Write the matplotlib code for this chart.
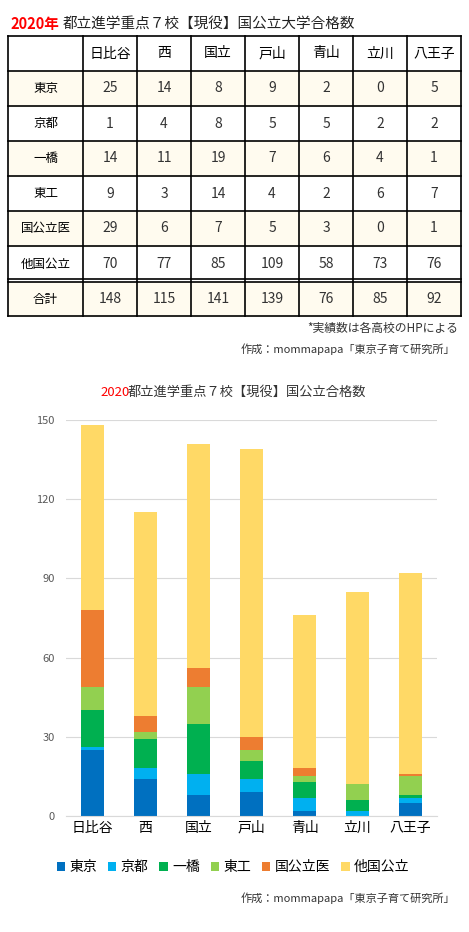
import matplotlib.pyplot as plt
from matplotlib.patches import Rectangle
import numpy as np

plt.rcParams['font.family'] = ['Noto Sans CJK JP', 'DejaVu Sans']

schools = ['日比谷', '西', '国立', '戸山', '青山', '立川', '八王子']
categories = ['東京', '京都', '一橋', '東工', '国公立医', '他国公立']
tokyo = [25, 14, 8, 9, 2, 0, 5]
kyoto = [1, 4, 8, 5, 5, 2, 2]
hitotsubashi = [14, 11, 19, 7, 6, 4, 1]
toko = [9, 3, 14, 4, 2, 6, 7]
med = [29, 6, 7, 5, 3, 0, 1]
other = [70, 77, 85, 109, 58, 73, 76]
series = [tokyo, kyoto, hitotsubashi, toko, med, other]
totals = [148, 115, 141, 139, 76, 85, 92]
colors = ['#0070C0', '#00B0F0', '#00B050', '#92D050', '#ED7D31', '#FFD966']

fig = plt.figure(figsize=(4.69, 9.32), dpi=100)
bg = fig.add_axes([0, 0, 1, 1])
bg.set_xlim(0, 469)
bg.set_ylim(932, 0)
bg.axis('off')

# table title
bg.text(10, 24, '2020年', color='red', fontsize=10.5, fontweight='bold', va='center')
bg.text(63, 24, '都立進学重点７校【現役】国公立大学合格数', color='#222222', fontsize=10.5, va='center')

# table
col_x = [8, 83, 137, 191, 245, 299, 353, 407, 461]
row_y = [36, 71, 106, 141, 176, 211, 246, 282, 316]
rows = [(c, s) for c, s in zip(categories, series)] + [('合計', totals)]
shaded = [True, False, True, False, True, False, True]
for i in range(len(rows)):
    if shaded[i]:
        bg.add_patch(Rectangle((col_x[0], row_y[i + 1]), col_x[-1] - col_x[0],
                               row_y[i + 2] - row_y[i + 1], color='#FFFBEF', zorder=0))
for x in col_x:
    bg.plot([x, x], [row_y[0], row_y[-1]], color='black', lw=1.2)
for y in row_y:
    bg.plot([col_x[0], col_x[-1]], [y, y], color='black', lw=1.2)
bg.plot([col_x[0], col_x[-1]], [row_y[7] - 3, row_y[7] - 3], color='black', lw=1.2)
for j, s in enumerate(schools):
    bg.text((col_x[j + 1] + col_x[j + 2]) / 2, (row_y[0] + row_y[1]) / 2, s,
            ha='center', va='center', fontsize=10)
for i, (name, vals) in enumerate(rows):
    cy = (row_y[i + 1] + row_y[i + 2]) / 2
    bg.text((col_x[0] + col_x[1]) / 2, cy, name, ha='center', va='center', fontsize=9)
    for j, v in enumerate(vals):
        bg.text((col_x[j + 1] + col_x[j + 2]) / 2, cy, str(v), ha='center', va='center',
                fontsize=10, color='#333333')

bg.text(458, 328, '*実績数は各高校のHPによる', ha='right', va='center', fontsize=8.5, color='#333333')
bg.text(455, 349, '作成：mommapapa「東京子育て研究所」', ha='right', va='center', fontsize=8, color='#333333')

# chart
bg.text(100, 392, '2020', color='red', fontsize=9.5, va='center')
bg.text(128, 392, '都立進学重点７校【現役】国公立合格数', color='#333333', fontsize=9.5, va='center')

ax = fig.add_axes([66 / 469, 1 - 816 / 932, 371 / 469, (816 - 420) / 932])
x = np.arange(len(schools))
bottom = np.zeros(len(schools))
for name, vals, c in zip(categories, series, colors):
    ax.bar(x, vals, 0.45, bottom=bottom, color=c, label=name, zorder=2)
    bottom += np.array(vals)
ax.set_ylim(0, 150)
ax.set_xlim(-0.5, len(schools) - 0.5)
ax.set_yticks(range(0, 151, 30))
ax.yaxis.grid(True, color='#D9D9D9', lw=0.8, zorder=0)
ax.set_xticks(x)
ax.set_xticklabels(schools, fontsize=10)
ax.tick_params(axis='y', labelsize=8, colors='#595959', length=0, pad=8)
ax.tick_params(axis='x', length=0)
for s in ['top', 'right', 'left']:
    ax.spines[s].set_visible(False)
ax.spines['bottom'].set_color('#D9D9D9')
ax.legend(loc='upper center', bbox_to_anchor=(0.45, -0.08), ncol=6, frameon=False,
          fontsize=10, handlelength=0.6, handleheight=0.6, columnspacing=0.8, handletextpad=0.3)

bg.text(455, 898, '作成：mommapapa「東京子育て研究所」', ha='right', va='center', fontsize=8, color='#333333')

fig.savefig('out.png', dpi=100)
